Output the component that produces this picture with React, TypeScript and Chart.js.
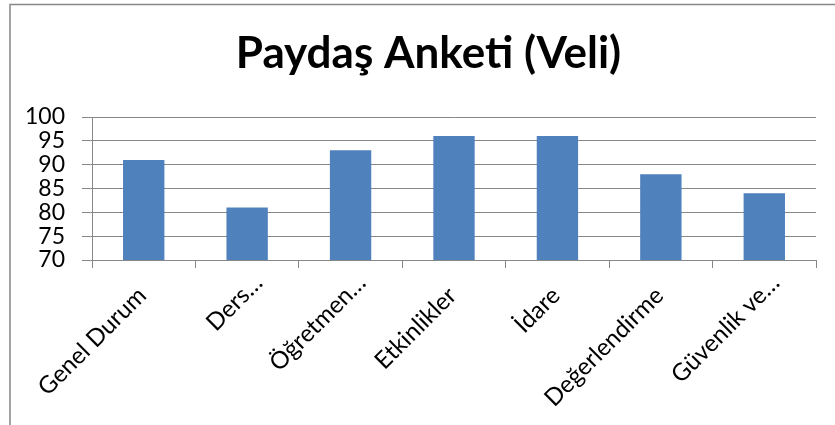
import React, { useEffect, useRef } from "react";
import { Chart, registerables } from "chart.js";

Chart.register(...registerables);

const categories: string[] = [
  "Genel Durum",
  "Ders…",
  "Öğretmen…",
  "Etkinlikler",
  "İdare",
  "Değerlendirme",
  "Güvenlik ve…",
];
const values: number[] = [91, 81, 93, 96, 96, 88, 84];
const chartTitle = "Paydaş Anketi (Veli)";
const yMin = 70;
const yMax = 100;
const yStep = 5;

const FONT = "Lato, 'Open Sans', sans-serif";
const GRID = "#878787";
const BAR = "#4F81BD";
const X_FONT_SIZE = 24;
const ELLIPSIS = "…";

const borderPlugin = {
  id: "outerBorder",
  beforeDraw(chart: any) {
    const ctx = chart.ctx;
    ctx.save();
    ctx.fillStyle = "#ffffff";
    ctx.fillRect(0, 0, chart.width, chart.height);
    ctx.strokeStyle = GRID;
    ctx.lineWidth = 1.5;
    ctx.beginPath();
    ctx.moveTo(10, chart.height);
    ctx.lineTo(10, 4.5);
    ctx.lineTo(chart.width, 4.5);
    ctx.stroke();
    ctx.restore();
  },
};

// Category labels rotated 45°, anchored like the spreadsheet does:
// the label text ends at the anchor; a truncation ellipsis runs past it.
const xLabelPlugin = {
  id: "xLabels",
  afterDraw(chart: any) {
    const scale = chart.scales.x;
    const labels: string[] = chart.data.labels;
    const ctx = chart.ctx;
    ctx.save();
    ctx.fillStyle = "#000000";
    ctx.font = `${X_FONT_SIZE}px ${FONT}`;
    ctx.textBaseline = "alphabetic";
    labels.forEach((label, i) => {
      const x = scale.getPixelForTick(i) + 4;
      const y = scale.top + 37;
      const truncated = label.endsWith(ELLIPSIS);
      const main = truncated ? label.slice(0, -1) : label;
      ctx.save();
      ctx.translate(x, y);
      ctx.rotate(-Math.PI / 4);
      ctx.textAlign = "right";
      ctx.fillText(main, 0, 0);
      if (truncated) {
        ctx.textAlign = "left";
        ctx.fillText(ELLIPSIS, 0, 0);
      }
      ctx.restore();
    });
    ctx.restore();
  },
};

export default function App() {
  const ref = useRef<HTMLCanvasElement | null>(null);
  useEffect(() => {
    if (!ref.current) return;
    const chart = new Chart(ref.current, {
      type: "bar",
      data: {
        labels: categories,
        datasets: [
          {
            data: values,
            backgroundColor: BAR,
            borderWidth: 0,
            barPercentage: 0.4,
            categoryPercentage: 1,
          },
        ],
      },
      plugins: [borderPlugin, xLabelPlugin],
      options: {
        animation: false,
        responsive: false,
        devicePixelRatio: 1,
        layout: { padding: { left: 22, right: 0, top: 0, bottom: 0 } },
        plugins: {
          legend: { display: false },
          tooltip: { enabled: false },
          title: {
            display: true,
            text: chartTitle,
            color: "#000000",
            font: { family: FONT, size: 44, weight: "bold", lineHeight: 1.2 },
            padding: { top: 27, bottom: 37.2 },
          },
        },
        scales: {
          x: {
            grid: {
              display: true,
              drawOnChartArea: false,
              drawTicks: true,
              tickLength: 8,
              color: GRID,
              offset: true,
            },
            border: { display: true, color: GRID, width: 1 },
            ticks: {
              display: false,
              autoSkip: false,
            },
            afterFit(scale: any) {
              scale.height = 165;
            },
          },
          y: {
            min: yMin,
            max: yMax,
            grid: {
              color: GRID,
              drawTicks: true,
              tickLength: 10,
            },
            border: { display: true, color: GRID, width: 1 },
            ticks: {
              stepSize: yStep,
              autoSkip: false,
              padding: 17,
              color: "#000000",
              font: { family: FONT, size: 23 },
            },
            afterFit(scale: any) {
              scale.width = 70;
            },
          },
          yRight: {
            position: "right",
            display: true,
            grid: { display: false, drawTicks: false },
            border: { display: false },
            ticks: { display: false },
            afterFit(scale: any) {
              scale.width = 19;
            },
          },
        },
      },
    } as any);
    return () => chart.destroy();
  }, []);

  return (
    <div style={{ position: "fixed", left: 0, top: 0, width: 835, height: 425, background: "#fff" }}>
      <canvas ref={ref} width={835} height={425} style={{ display: "block", width: 835, height: 425 }} />
    </div>
  );
}
